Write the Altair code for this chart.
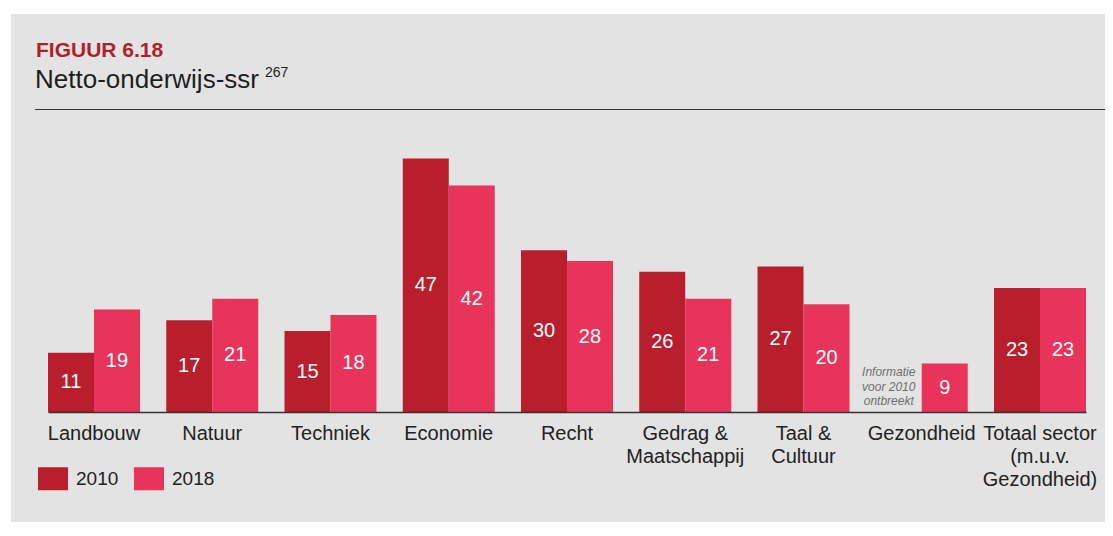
import altair as alt
import pandas as pd

# ---- data ----
categories = ["Landbouw", "Natuur", "Techniek", "Economie", "Recht",
              "Gedrag &|Maatschappij", "Taal &|Cultuur", "Gezondheid",
              "Totaal sector|(m.u.v.|Gezondheid)"]
years = ["2010", "2018"]
values_2010 = [11, 17, 15, 47, 30, 26, 27, None, 23]
values_2018 = [19, 21, 18, 42, 28, 21, 20, 9, 23]
note_lines = ["Informatie", "voor 2010", "ontbreekt"]
note_category = "Gezondheid"
title_text = "FIGUUR 6.18"
subtitle_text = "Netto-onderwijs-ssr"
superscript_text = "267"

rows = []
for c, a, b in zip(categories, values_2010, values_2018):
    if a is not None:
        rows.append({"cat": c, "year": "2010", "value": a})
    if b is not None:
        rows.append({"cat": c, "year": "2018", "value": b})
df = pd.DataFrame(rows)

DARK = "#b81e2c"
PINK = "#e8345a"
BG = "#e3e3e3"
FONT = "Liberation Sans"

W, H = 1066, 282
PAD_LEFT, PAD_TOP, PAD_RIGHT, PAD_BOTTOM = 27, 122, 4, 110
RIGHT_EDGE = W + PAD_RIGHT

xs = alt.X("cat:N", sort=categories,
           scale=alt.Scale(range=[13, 1051], paddingInner=0.222, paddingOuter=0, round=False),
           axis=alt.Axis(title=None, labelAngle=0, ticks=False, labelPadding=11,
                         labelExpr="split(datum.label, '|')",
                         labelFontSize=20, labelColor="#222222", labelFont=FONT,
                         labelLineHeight=23, labelBaseline="top",
                         domainColor="#333333", domainWidth=1.5, grid=False,
                         zindex=1))
xo = alt.XOffset("year:N", sort=years, scale=alt.Scale(paddingInner=0, paddingOuter=0))
yscale = alt.Scale(domain=[0, 52.3], nice=False)
ys = alt.Y("value:Q", scale=yscale, axis=None)

bg = alt.Chart(alt.Data(values=[{}])).mark_rect(color=BG).encode(
    x=alt.value(-24), x2=alt.value(RIGHT_EDGE), y=alt.value(-116), y2=alt.value(H + PAD_BOTTOM))

bars = alt.Chart(df).mark_bar(strokeWidth=0).encode(
    x=xs, xOffset=xo, y=ys,
    color=alt.Color("year:N", sort=years,
                    scale=alt.Scale(domain=years, range=[DARK, PINK]),
                    legend=alt.Legend(title=None, orient="none", legendX=3, legendY=333.5,
                                      direction="horizontal",
                                      symbolType="M-1,-0.767H1V0.767H-1Z",
                                      symbolSize=900, symbolStrokeWidth=0,
                                      symbolOpacity=1,
                                      labelFontSize=19, labelFont=FONT,
                                      labelColor="#222222", labelOffset=8,
                                      columnPadding=15, padding=0)))

labels = alt.Chart(df).transform_calculate(half="datum.value / 2").mark_text(
    color="white", fontSize=20, font=FONT, baseline="middle", align="center").encode(
    x=xs, xOffset=xo,
    y=alt.Y("half:Q", scale=yscale, axis=None),
    text=alt.Text("value:Q"))

note = alt.Chart(alt.Data(values=[{"cat": note_category, "year": "2010", "t": note_lines}])).mark_text(
    fontSize=12, font=FONT, fontStyle="italic", color="#6e6e6e", align="center",
    baseline="alphabetic", lineHeight=14.5, dx=-10).encode(
    x=xs, xOffset=xo,
    y=alt.value(246), text="t:N")

t1 = alt.Chart(alt.Data(values=[{"t": title_text}])).mark_text(
    fontSize=21, font=FONT, fontWeight="bold", color="#b01f2a", align="left",
    baseline="alphabetic").encode(x=alt.value(1), y=alt.value(-73), text="t:N")
t2 = alt.Chart(alt.Data(values=[{"t": subtitle_text}])).mark_text(
    fontSize=26, font=FONT, color="#1e1e1e", align="left",
    baseline="alphabetic").encode(x=alt.value(0), y=alt.value(-42), text="t:N")
t3 = alt.Chart(alt.Data(values=[{"t": superscript_text}])).mark_text(
    fontSize=14, font=FONT, color="#1e1e1e", align="left",
    baseline="alphabetic").encode(x=alt.value(230), y=alt.value(-53), text="t:N")
rule = alt.Chart(alt.Data(values=[{}])).mark_rule(color="#333333", strokeWidth=1).encode(
    x=alt.value(0), x2=alt.value(RIGHT_EDGE), y=alt.value(-20.5))

chart = alt.layer(bg, bars, labels, note, t1, t2, t3, rule).properties(
    width=W, height=H,
    padding={"left": PAD_LEFT, "top": PAD_TOP, "right": PAD_RIGHT, "bottom": PAD_BOTTOM},
    autosize=alt.AutoSizeParams(type="none"),
    background="white",
).configure_view(stroke=None)

chart.save("out.html", embed_options={"renderer": "svg", "actions": False})
